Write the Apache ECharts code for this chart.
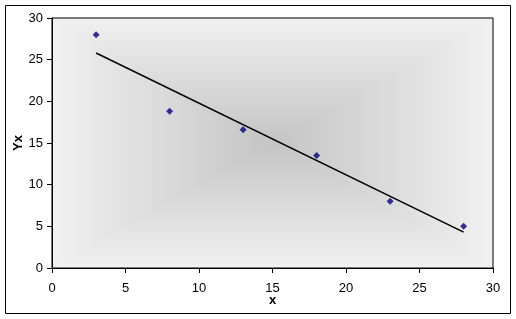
<!DOCTYPE html>
<html><head><meta charset="utf-8">
<script src="https://cdn.jsdelivr.net/npm/echarts@6/dist/echarts.min.js"></script>
<style>html,body{margin:0;padding:0;background:#fff}#c{width:516px;height:319px}</style>
</head><body><div id="c"></div>
<script>
const xValues = [3, 8, 13, 18, 23, 28];
const yValues = [28, 18.8, 16.6, 13.5, 8, 5];
const trendX = [3, 28];
const trendY = [25.8, 4.3];
const xTicks = [0, 5, 10, 15, 20, 25, 30];
const yTicks = [0, 5, 10, 15, 20, 25, 30];

const G = {l: 52, t: 18, w: 441, h: 250};
const cx = G.l + G.w / 2, cy = G.t + G.h / 2;
const edge = '#f1f1f1', mid = '#c4c4c4';
function lg(x, y, x2, y2) {
  return {type: 'linear', x, y, x2, y2, colorStops: [{offset: 0, color: edge}, {offset: 1, color: mid}]};
}
function tri(points, g) {
  return {type: 'polygon', shape: {points}, style: {fill: g, stroke: g, lineWidth: 1}, z: -10, silent: true};
}
const L = G.l, R = G.l + G.w, T = G.t, B = G.t + G.h;
const chart = echarts.init(document.getElementById('c'), null, {renderer: 'canvas'});
chart.setOption({
  animation: false,
  backgroundColor: '#fff',
  textStyle: {fontFamily: 'Liberation Sans, Arial, sans-serif'},
  graphic: [
    {type: 'rect', shape: {x: 5.5, y: 5.5, width: 505, height: 308}, style: {fill: '#fff', stroke: '#000', lineWidth: 1}, z: -20, silent: true},
    tri([[L, T], [R, T], [cx, cy]], lg(0, 0, 0, 1)),
    tri([[L, B], [R, B], [cx, cy]], lg(0, 1, 0, 0)),
    tri([[L, T], [L, B], [cx, cy]], lg(0, 0, 1, 0)),
    tri([[R, T], [R, B], [cx, cy]], lg(1, 0, 0, 0))
  ],
  grid: {left: G.l, top: G.t, width: G.w, height: G.h, show: true, borderColor: '#000', borderWidth: 1, backgroundColor: 'transparent', outerBoundsMode: 'none', containLabel: false},
  xAxis: {
    type: 'value', min: xTicks[0], max: xTicks[xTicks.length - 1], interval: xTicks[1] - xTicks[0],
    name: 'x', nameLocation: 'middle', nameGap: 26, nameMoveOverlap: false,
    nameTextStyle: {fontWeight: 'bold', fontSize: 13, color: '#000', fontFamily: 'Liberation Sans'},
    axisLine: {lineStyle: {color: '#000', width: 1}},
    axisTick: {show: true, inside: false, length: 5, lineStyle: {color: '#000'}},
    axisLabel: {color: '#000', fontSize: 13, margin: 14, fontFamily: 'Liberation Sans'},
    splitLine: {show: false}
  },
  yAxis: {
    type: 'value', min: yTicks[0], max: yTicks[yTicks.length - 1], interval: yTicks[1] - yTicks[0],
    name: 'Yx', nameLocation: 'middle', nameGap: 27, nameRotate: 90, nameMoveOverlap: false,
    nameTextStyle: {fontWeight: 'bold', fontSize: 13, color: '#000', fontFamily: 'Liberation Sans'},
    axisLine: {show: true, lineStyle: {color: '#000', width: 1}},
    axisTick: {show: true, inside: false, length: 5, lineStyle: {color: '#000'}},
    axisLabel: {color: '#000', fontSize: 13, margin: 9, fontFamily: 'Liberation Sans'},
    splitLine: {show: false}
  },
  series: [
    {type: 'line', data: trendX.map((x, i) => [x, trendY[i]]), symbol: 'none', lineStyle: {color: '#000', width: 1.5}, z: 2},
    {type: 'scatter', data: xValues.map((x, i) => [x, yValues[i]]), symbol: 'diamond', symbolSize: 7, itemStyle: {color: '#000080'}, z: 3}
  ]
});
</script></body></html>
